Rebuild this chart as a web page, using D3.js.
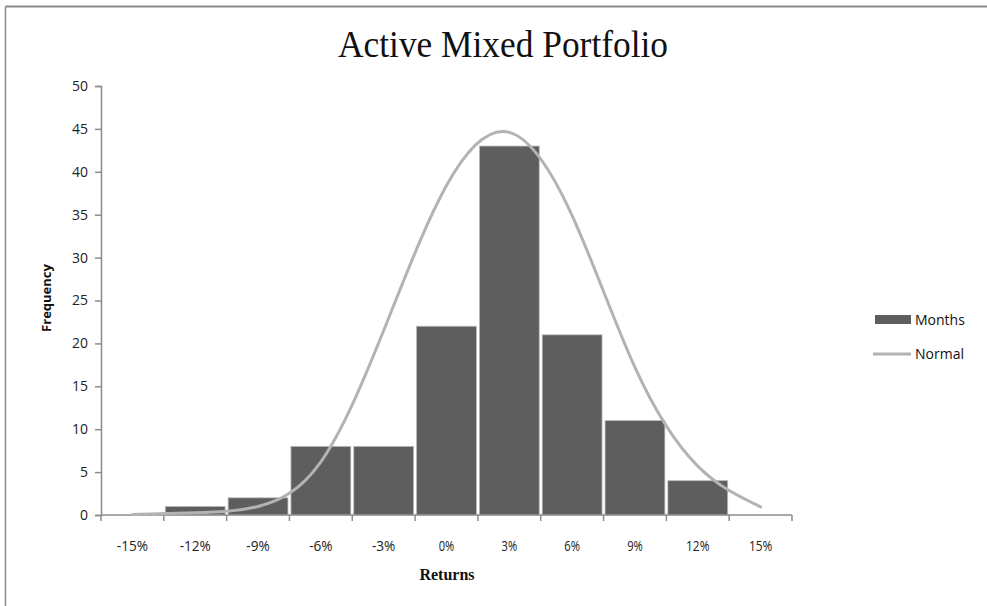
<!DOCTYPE html>
<html>
<head>
<meta charset="utf-8">
<script src="https://cdn.jsdelivr.net/npm/d3@7"></script>
<style>
  html, body { margin: 0; padding: 0; background: #fff; }
  svg { display: block; }
</style>
</head>
<body>
<svg id="chart" width="987" height="606"></svg>
<script>
// Return bins (category axis), monthly counts, and the fitted normal curve
const categories = ["-15%", "-12%", "-9%", "-6%", "-3%", "0%", "3%", "6%", "9%", "12%", "15%"];
const months = [0, 1, 2, 8, 8, 22, 43, 21, 11, 4, 0];
const normal = [0.05, 0.25, 1.0, 6.2, 21.5, 38.4, 44.6, 34.9, 17.2, 5.7, 0.95];
const yTicks = [0, 5, 10, 15, 20, 25, 30, 35, 40, 45, 50];

const svg = d3.select("#chart");
const W = 987, H = 606;
const plot = { left: 101, right: 792, top: 86, bottom: 515 };
const axisColor = "#8c8c8c";
const barColor = "#5e5e5e";
const lineColor = "#b3b3b3";

// frame of the chart area
svg.append("line").attr("x1", 5.5).attr("x2", W).attr("y1", 6.5).attr("y2", 6.5)
  .attr("stroke", "#8a8a8a").attr("stroke-width", 2);
svg.append("line").attr("x1", 5.5).attr("x2", 5.5).attr("y1", 6.5).attr("y2", H)
  .attr("stroke", "#8a8a8a").attr("stroke-width", 1.5);

const x = d3.scaleBand().domain(categories).range([plot.left, plot.right]).padding(0);
const y = d3.scaleLinear().domain([0, 50]).range([plot.bottom, plot.top]);

// title
svg.append("text")
  .attr("x", 503).attr("y", 57)
  .attr("text-anchor", "middle")
  .attr("font-family", "Liberation Serif, serif")
  .attr("font-size", 38)
  .attr("textLength", 330).attr("lengthAdjust", "spacingAndGlyphs")
  .attr("fill", "#111")
  .text("Active Mixed Portfolio");

// histogram bars
const bars = svg.append("g");
bars.selectAll("rect")
  .data(categories.map((c, i) => ({ c, v: months[i] })).filter(d => d.v > 0))
  .join("rect")
  .attr("x", d => x(d.c) + 1.5)
  .attr("width", x.bandwidth() - 3)
  .attr("y", d => y(d.v))
  .attr("height", d => y(0) - y(d.v))
  .attr("fill", barColor)
  .attr("stroke", "#b9b9b9")
  .attr("stroke-width", 0.8);

// y axis
const yAxis = d3.axisLeft(y).tickValues(yTicks).tickSize(6).tickPadding(7);
const gy = svg.append("g").attr("transform", `translate(${plot.left},0)`).call(yAxis);
gy.select(".domain").attr("stroke", axisColor).attr("stroke-width", 1.5);
gy.selectAll(".tick line").attr("stroke", axisColor).attr("stroke-width", 1.5);
gy.selectAll(".tick text")
  .attr("font-family", "Open Sans, sans-serif").attr("font-size", 14)
  .attr("fill", "#222");

// x axis: ticks sit on the bin boundaries
const gx = svg.append("g").attr("transform", `translate(0,${plot.bottom})`);
gx.append("line").attr("x1", plot.left).attr("x2", plot.right).attr("y1", 0).attr("y2", 0)
  .attr("stroke", axisColor).attr("stroke-width", 1.5);
const boundaries = categories.map(c => x(c)).concat([x(categories[categories.length - 1]) + x.bandwidth()]);
gx.selectAll("line.tk").data(boundaries).join("line").attr("class", "tk")
  .attr("x1", d => d).attr("x2", d => d).attr("y1", 0).attr("y2", 6)
  .attr("stroke", axisColor).attr("stroke-width", 1.5);
gx.selectAll("text").data(categories).join("text")
  .attr("x", d => x(d) + x.bandwidth() / 2)
  .attr("y", 31)
  .attr("dy", "0.35em")
  .attr("text-anchor", "middle")
  .attr("font-family", "Open Sans, sans-serif").attr("font-size", 14)
  .attr("textLength", d => d.length * 7.8).attr("lengthAdjust", "spacingAndGlyphs")
  .attr("fill", "#222")
  .text(d => d);

// fitted normal curve
const line = d3.line()
  .x((d, i) => x(categories[i]) + x.bandwidth() / 2)
  .y(d => y(d))
  .curve(d3.curveNatural);
svg.append("path").datum(normal)
  .attr("d", line)
  .attr("fill", "none")
  .attr("stroke", lineColor)
  .attr("stroke-width", 3)
  .attr("stroke-linecap", "round");

// axis titles
svg.append("text")
  .attr("transform", "translate(51,298) rotate(-90)")
  .attr("text-anchor", "middle")
  .attr("font-family", "Open Sans, sans-serif").attr("font-weight", "bold")
  .attr("font-size", 13).attr("fill", "#111")
  .text("Frequency");
svg.append("text")
  .attr("x", 447).attr("y", 580)
  .attr("text-anchor", "middle")
  .attr("font-family", "Liberation Serif, serif").attr("font-weight", "bold")
  .attr("font-size", 16).attr("fill", "#111")
  .text("Returns");

// legend
const lg = svg.append("g");
lg.append("rect").attr("x", 875).attr("y", 315).attr("width", 36).attr("height", 9).attr("fill", barColor);
lg.append("text").attr("x", 915).attr("y", 320).attr("dy", "0.35em")
  .attr("font-family", "Open Sans, sans-serif").attr("font-size", 14).attr("fill", "#111")
  .text("Months");
lg.append("line").attr("x1", 873).attr("x2", 911).attr("y1", 354).attr("y2", 354)
  .attr("stroke", lineColor).attr("stroke-width", 3);
lg.append("text").attr("x", 915).attr("y", 354).attr("dy", "0.35em")
  .attr("font-family", "Open Sans, sans-serif").attr("font-size", 14).attr("fill", "#111")
  .text("Normal");
</script>
</body>
</html>
